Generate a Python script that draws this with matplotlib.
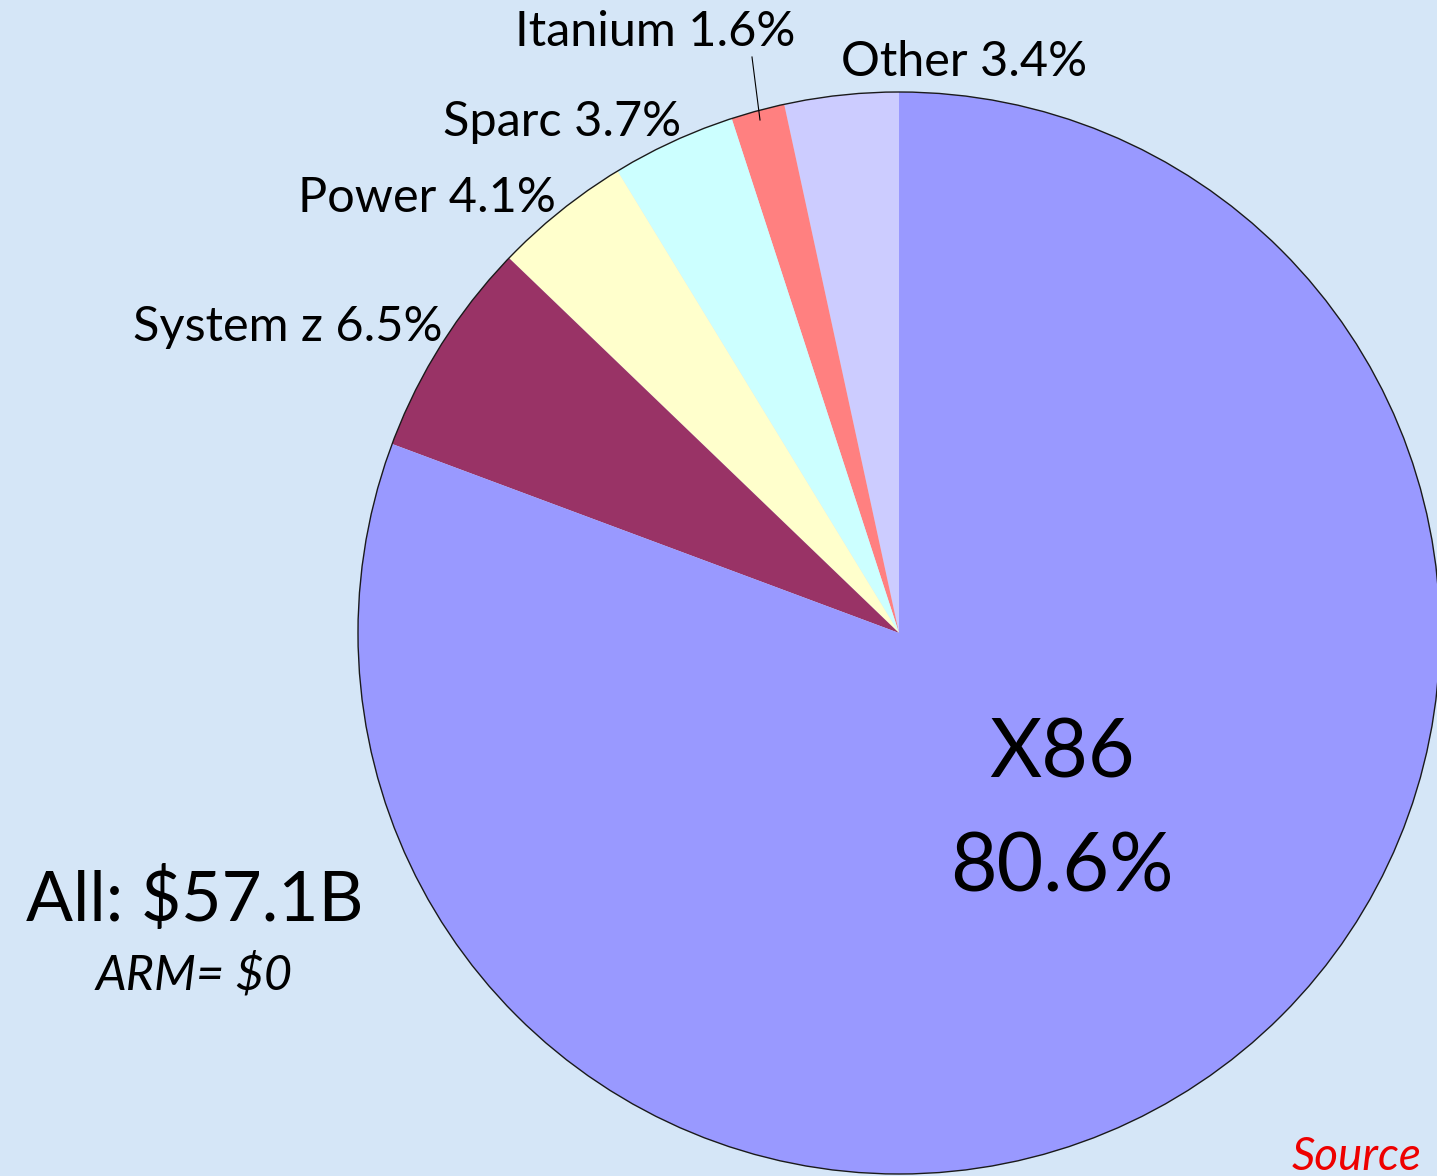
import matplotlib
matplotlib.use('Agg')
import matplotlib.pyplot as plt
from matplotlib.patches import Circle

# server CPU revenue share by architecture (percent), counter-clockwise from 12 o'clock
arch = ['Other', 'Itanium', 'Sparc', 'Power', 'System z', 'X86']
share = [3.4, 1.6, 3.7, 4.1, 6.5, 80.6]
colors = ['#CCCCFF', '#FF8080', '#CCFFFF', '#FFFFCC', '#993366', '#9999FF']

total_label = 'All: $57.1B'
arm_label = 'ARM= $0'
source_label = 'Source'

W, H = 1437, 1176
plt.rcParams['font.family'] = ['Lato', 'DejaVu Sans']
bg = '#D5E6F7'

fig = plt.figure(figsize=(W / 100, H / 100), dpi=100)
fig.patch.set_facecolor(bg)
ax = fig.add_axes([0, 0, 1, 1])
ax.set_facecolor(bg)

cx, cy, r = 899, H - 633, 541
ax.pie(share, colors=colors, startangle=90, counterclock=True,
       center=(cx, cy), radius=r, wedgeprops=dict(linewidth=0))
ax.add_patch(Circle((cx, cy), r, fill=False, ec='#1a1a1a', lw=1.0))

ax.set_xlim(0, W)
ax.set_ylim(0, H)
ax.axis('off')

lab_fs = 35
# label centres (pixels, y from top)
lab_pos = {
    'Other': (964, 62),
    'Itanium': (655, 32),
    'Sparc': (562, 122),
    'Power': (427, 198),
    'System z': (288, 327),
}
for name, val in zip(arch, share):
    if name in lab_pos:
        x, y = lab_pos[name]
        ax.text(x, H - y, f'{name} {val}%', fontsize=lab_fs,
                ha='center', va='center', color='black')

# leader line for the thin Itanium slice
ax.plot([752, 760], [H - 57, H - 120], color='black', lw=0.8)

ax.text(1062, H - 755, arch[-1], fontsize=58, ha='center', va='center')
ax.text(1062, H - 868, f'{share[-1]}%', fontsize=58, ha='center', va='center')

ax.text(195, H - 900, total_label, fontsize=50, ha='center', va='center')
ax.text(194, H - 975, arm_label, fontsize=35, style='italic',
        ha='center', va='center')

ax.text(1292, H - 1170, source_label, fontsize=33, style='italic',
        color='#EE0000', ha='left', va='baseline')

fig.savefig('out.png', dpi=100, facecolor=fig.get_facecolor())
